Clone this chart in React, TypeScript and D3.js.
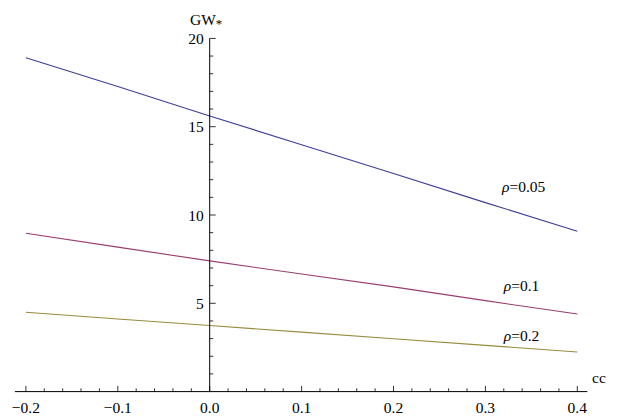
import React from "react";
import * as d3 from "d3";

// values
const ccValues = [-0.2, -0.1, 0.0, 0.1, 0.2, 0.3, 0.4];
const gwRho005 = [18.9, 17.28, 15.61, 13.98, 12.35, 10.7, 9.08];
const gwRho01 = [8.97, 8.18, 7.4, 6.66, 5.93, 5.15, 4.39];
const gwRho02 = [4.49, 4.11, 3.74, 3.37, 2.99, 2.62, 2.24];
const seriesNames = ["0.05", "0.1", "0.2"];
const seriesColors = ["#3d3d99", "#993d71", "#998b3d"];
const labelCc = [0.318, 0.32, 0.32];
const labelGw = [11.3, 5.7, 2.85];
const xTicks = [-0.2, -0.1, 0.0, 0.1, 0.2, 0.3, 0.4];
const yTicks = [5, 10, 15, 20];

const W = 620;
const H = 416;

const App = () => {
  const svgRef = React.useRef<SVGSVGElement>(null);

  React.useEffect(() => {
    const x = d3.scaleLinear().domain([-0.2, 0.4]).range([25.9, 577.3]);
    const y = d3.scaleLinear().domain([0, 20]).range([391.6, 38.4]);

    const svgEl = d3.select(svgRef.current);
    svgEl.selectAll("*").remove();
    const svg = svgEl.append("g");
    const font = "'Liberation Serif', 'Times New Roman', serif";

    // data lines
    const allSeries = [gwRho005, gwRho01, gwRho02];
    const line = d3
      .line<number>()
      .x((_, i) => x(ccValues[i]))
      .y((d) => y(d));
    allSeries.forEach((s, i) => {
      svg
        .append("path")
        .datum(s)
        .attr("fill", "none")
        .attr("stroke", seriesColors[i])
        .attr("stroke-width", 1.1)
        .attr("d", line);
    });

    // x axis
    const x0 = y(0);
    svg
      .append("line")
      .attr("x1", x(-0.2) - 11)
      .attr("x2", x(0.4) + 10)
      .attr("y1", x0)
      .attr("y2", x0)
      .attr("stroke", "#000")
      .attr("stroke-width", 1);
    const xMinor = d3.range(-20, 41, 2).map((v) => v / 100);
    svg
      .selectAll(".xt")
      .data(xMinor)
      .enter()
      .append("line")
      .attr("x1", (d) => x(d))
      .attr("x2", (d) => x(d))
      .attr("y1", x0)
      .attr("y2", (d, i) => (i % 5 === 0 ? x0 - 5.7 : x0 - 3.3))
      .attr("stroke", "#000")
      .attr("stroke-width", 0.8);
    svg
      .selectAll(".xl")
      .data(xTicks)
      .enter()
      .append("text")
      .attr("x", (d) => x(d))
      .attr("y", 413)
      .attr("text-anchor", "middle")
      .attr("font-family", font)
      .attr("font-size", 15.5)
      .text((d) => (d < 0 ? "\u2212" : "") + Math.abs(d).toFixed(1));
    svg
      .append("text")
      .attr("x", 592)
      .attr("y", 383)
      .attr("font-family", font)
      .attr("font-size", 15.5)
      .text("cc");

    // y axis
    const y0 = x(0);
    svg
      .append("line")
      .attr("x1", y0)
      .attr("x2", y0)
      .attr("y1", y(20))
      .attr("y2", y(0) + 0.5)
      .attr("stroke", "#000")
      .attr("stroke-width", 1);
    const yMinor = d3.range(1, 21);
    svg
      .selectAll(".yt")
      .data(yMinor)
      .enter()
      .append("line")
      .attr("x1", y0)
      .attr("x2", (d) => (d % 5 === 0 ? y0 + 6 : y0 + 3.5))
      .attr("y1", (d) => y(d))
      .attr("y2", (d) => y(d))
      .attr("stroke", "#000")
      .attr("stroke-width", 0.8);
    svg
      .selectAll(".yl")
      .data(yTicks)
      .enter()
      .append("text")
      .attr("x", y0 - 6)
      .attr("y", (d) => y(d))
      .attr("dy", "0.36em")
      .attr("text-anchor", "end")
      .attr("font-family", font)
      .attr("font-size", 15.5)
      .text((d) => String(d));
    const gw = svg
      .append("text")
      .attr("x", 190)
      .attr("y", 25)
      .attr("font-family", font)
      .attr("font-size", 15.5);
    gw.append("tspan").text("GW");
    gw.append("tspan").attr("dy", 3).attr("font-size", 13).text("*");

    // curve labels
    seriesNames.forEach((name, i) => {
      const t = svg
        .append("text")
        .attr("x", x(labelCc[i]))
        .attr("y", y(labelGw[i]))
        .attr("font-family", font)
        .attr("font-size", 15.5);
      t.append("tspan").attr("font-style", "italic").text("\u03c1");
      t.append("tspan").text("=" + name);
    });
  }, []);

  return (
    <svg
      ref={svgRef}
      width={W}
      height={H}
      style={{ position: "absolute", left: 0, top: 0, background: "#fff" }}
    />
  );
};

export default App;
